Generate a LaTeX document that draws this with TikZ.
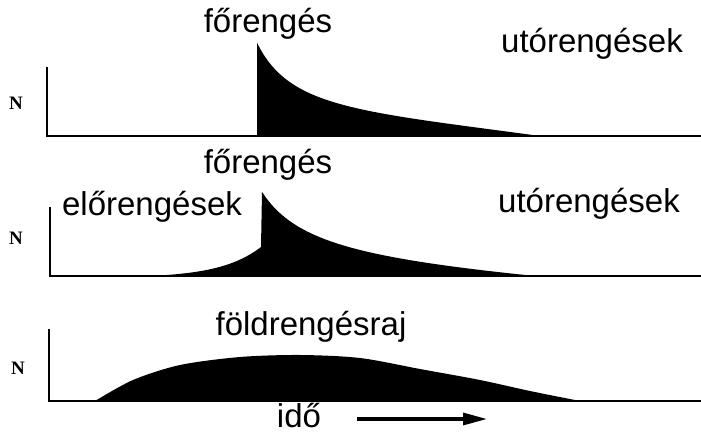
\documentclass[tikz,border=0pt]{standalone}
\usepackage{fontspec}
\setmainfont{Liberation Sans}
\newfontfamily\nfont{Liberation Serif}
\usetikzlibrary{arrows.meta}

\begin{document}
\begin{tikzpicture}[x=0.5pt,y=-0.5pt,
    axis/.style={line width=1.4pt,line join=miter},
    lbl/.style={font=\fontsize{16.5}{18}\selectfont,anchor=base,inner sep=0pt},
    nlbl/.style={font=\nfont\bfseries\fontsize{9.5}{10}\selectfont,inner sep=0pt},
    >={Triangle[length=12pt,width=6pt]}]
                \useasboundingbox (0,0) rectangle (701,433);
                % axes
                \draw[axis] (47,67) -- (47,136) -- (701,136);
                \draw[axis] (50,207) -- (50,276) -- (701,276);
                \draw[axis] (49,329) -- (49,401) -- (701,401);
                % curves
                \fill (257,136)
                    -- plot[domain=0:283,samples=80] ({257+\x},{136-4200/(\x+45)*(1-(\x/283)^3)})
                    -- cycle;
                \fill plot[domain=0:111,samples=40] ({150+\x},{276-1.93*(exp(\x/40)-1)})
                    -- plot[domain=0:273,samples=80] ({262+\x},{276-4540/(\x+54)*(1-(\x/273)^2)})
                    -- cycle;
                \fill plot[smooth] coordinates {(95,401) (133,380) (180,365) (240,357) (300,355) (360,358) (420,369) (480,380) (530,391) (580,401)}
                    -- cycle;
                % labels
                \node[lbl] (fo1) at (268,33) {főrengés};
                \node[lbl] (uto1) at (592,53) {utórengések};
                \node[lbl] (fo2) at (268,173) {főrengés};
                \node[lbl] (elo2) at (152,215) {előrengések};
                \node[lbl] (uto2) at (589,212) {utórengések};
                \node[lbl] (raj3) at (311,335) {földrengésraj};
                \node[lbl] (ido) at (299,427) {idő};
                \node[nlbl] (n1) at (16,103) {N};
                \node[nlbl] (n2) at (16,238) {N};
                \node[nlbl] (n3) at (18,368) {N};
                % time arrow
                \coordinate (tstart) at (357,419);
                \coordinate (tend) at (487,419);
                \draw[->,line width=1.6pt] (tstart) -- (tend);
\end{tikzpicture}
\end{document}
